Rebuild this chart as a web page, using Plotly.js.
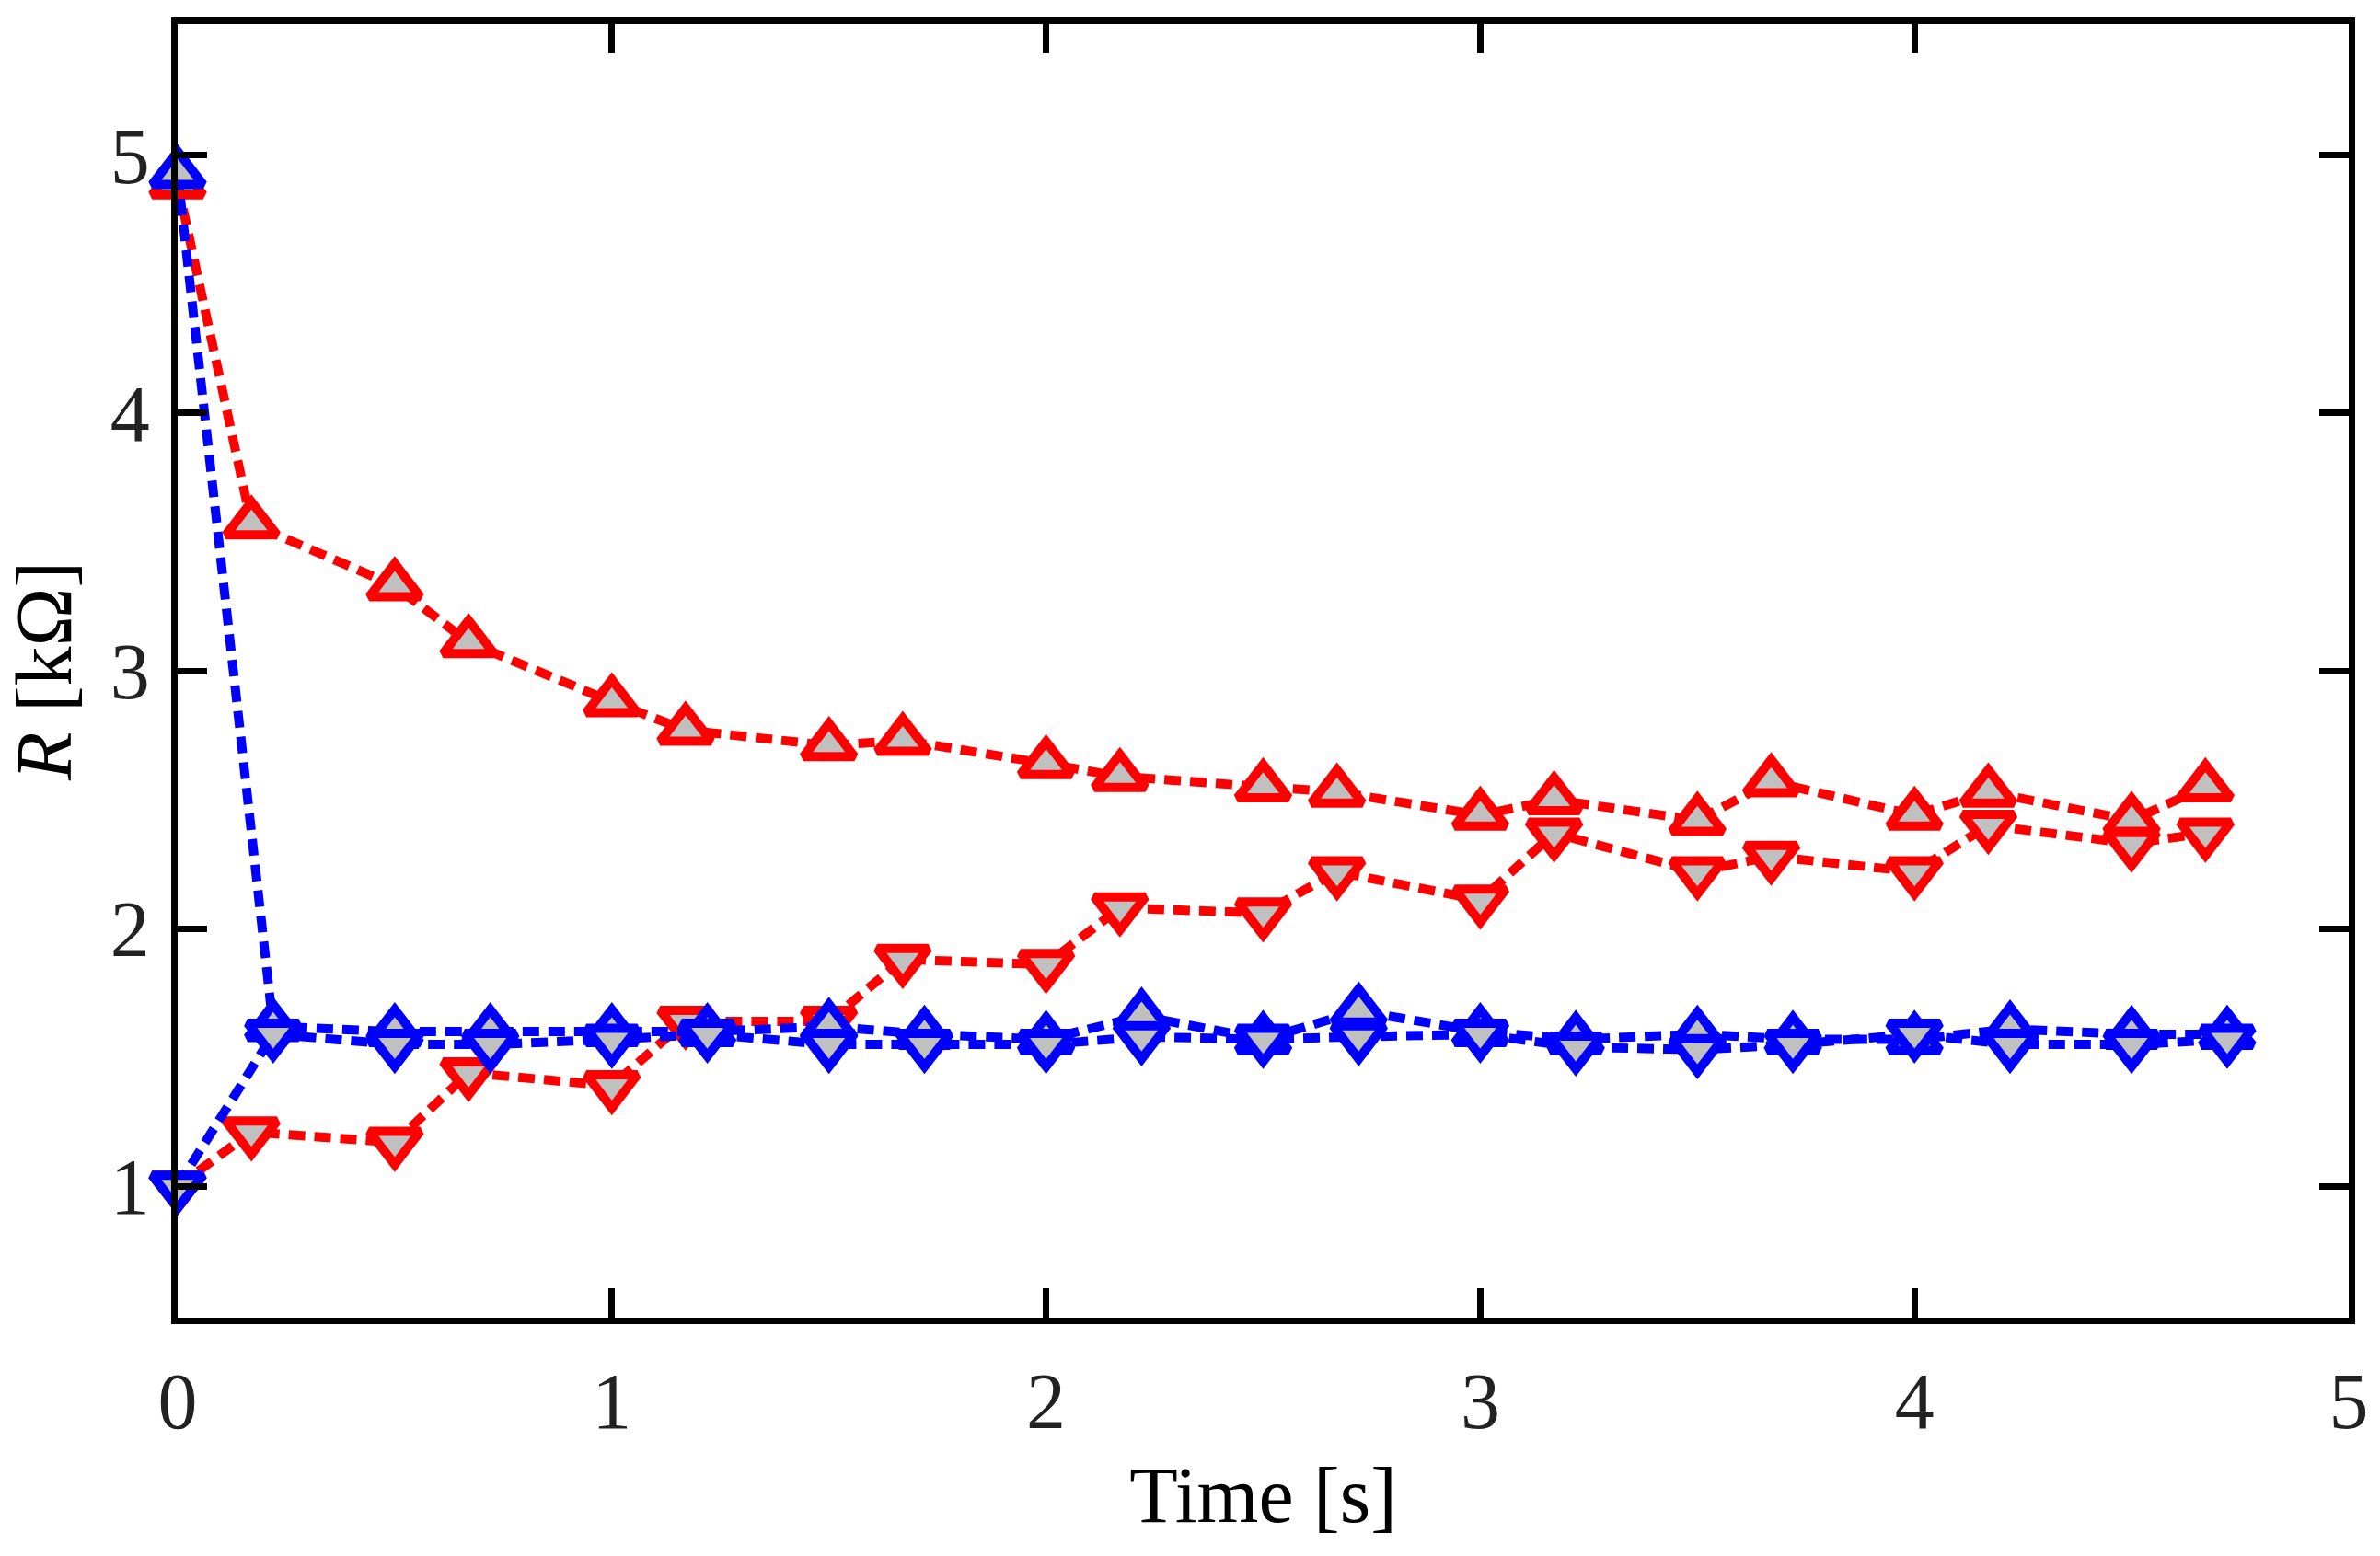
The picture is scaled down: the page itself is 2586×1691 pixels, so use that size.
<!DOCTYPE html>
<html>
<head>
<meta charset="utf-8">
<script src="https://cdn.plot.ly/plotly-3.0.1.min.js"></script>
<style>
  body { margin: 0; background: #fff; }
  #chart { width: 2586px; height: 1691px; }
</style>
</head>
<body>
<div id="chart"></div>
<script>
// time points of the two measurement sets
var timeRed  = [0, 0.17, 0.5, 0.67, 1.0, 1.17, 1.5, 1.67, 2.0, 2.17, 2.5, 2.67, 3.0, 3.17, 3.5, 3.67, 4.0, 4.17, 4.5, 4.67];
var timeBlue = [0, 0.22, 0.5, 0.72, 1.0, 1.22, 1.5, 1.72, 2.0, 2.22, 2.5, 2.72, 3.0, 3.22, 3.5, 3.72, 4.0, 4.22, 4.5, 4.72];

// resistance [kOhm]
var redUp    = [4.89, 3.57, 3.33, 3.11, 2.88, 2.77, 2.71, 2.73, 2.64, 2.59, 2.55, 2.53, 2.44, 2.50, 2.42, 2.57, 2.44, 2.53, 2.42, 2.55];
var redDown  = [1.00, 1.21, 1.17, 1.44, 1.39, 1.64, 1.64, 1.88, 1.86, 2.08, 2.06, 2.22, 2.11, 2.37, 2.22, 2.28, 2.22, 2.40, 2.33, 2.37];
var blueUp   = [4.93, 1.62, 1.60, 1.60, 1.60, 1.60, 1.62, 1.59, 1.57, 1.66, 1.57, 1.68, 1.60, 1.57, 1.59, 1.57, 1.57, 1.61, 1.59, 1.59];
var blueDown = [1.00, 1.59, 1.55, 1.55, 1.57, 1.59, 1.55, 1.55, 1.55, 1.58, 1.57, 1.58, 1.59, 1.54, 1.53, 1.55, 1.59, 1.55, 1.55, 1.57];

var xTicks = [0, 1, 2, 3, 4, 5];
var yTicks = [1, 2, 3, 4, 5];

function series(x, y, colour, symbol) {
	return {
		x: x,
		y: y,
		type: 'scatter',
		mode: 'lines+markers',
		line: {color: colour, width: 10, dash: '18px,10px'},
		marker: {symbol: symbol, size: 48, color: '#c0c0c0', line: {color: colour, width: 10}},
		cliponaxis: false,
		showlegend: false
	};
}

var data = [
	series(timeRed, redUp, '#ff0000', 'triangle-up'),
	series(timeRed, redDown, '#ff0000', 'triangle-down'),
	series(timeBlue, blueUp, '#0000ff', 'triangle-up'),
	series(timeBlue, blueDown, '#0000ff', 'triangle-down')
];

var tickFont = {family: 'Liberation Serif, Times New Roman, serif', size: 86, color: '#222'};
var titleFont = {family: 'Liberation Serif, Times New Roman, serif', size: 86, color: '#000'};

var axisStyle = {
	showline: true, linecolor: '#000', linewidth: 7, mirror: 'allticks',
	ticks: 'inside', ticklen: 32, tickwidth: 7, tickcolor: '#000',
	showgrid: false, zeroline: false, tickfont: tickFont
};

var layout = {
	width: 2586,
	height: 1691,
	margin: {l: 193, r: 34, t: 26, b: 259},
	paper_bgcolor: '#fff',
	plot_bgcolor: '#fff',
	xaxis: Object.assign({}, axisStyle, {
		range: [0, 5], tickvals: xTicks, ticklabelstandoff: 10,
		title: {text: 'Time [s]', font: titleFont, standoff: 26}
	}),
	yaxis: Object.assign({}, axisStyle, {
		range: [0.49, 5.51], tickvals: yTicks, ticklabelstandoff: 6,
		title: {text: '<i>R</i> [kΩ]', font: titleFont, standoff: 20}
	})
};

Plotly.newPlot('chart', data, layout, {displayModeBar: false, staticPlot: true});
</script>
</body>
</html>
